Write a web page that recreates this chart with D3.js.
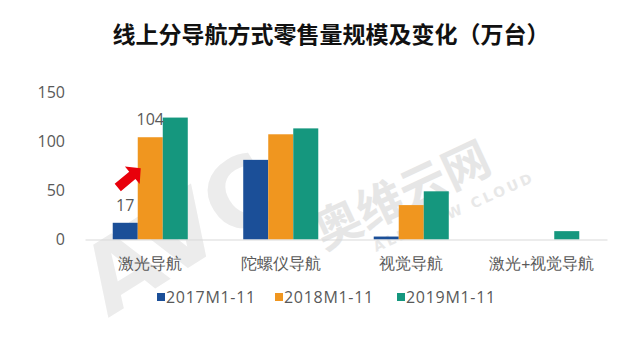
<!DOCTYPE html>
<html>
<head>
<meta charset="utf-8">
<script src="https://cdn.jsdelivr.net/npm/d3@7"></script>
<style>
  html, body { margin: 0; padding: 0; background: #fff; }
  svg { display: block; font-family: "Microsoft YaHei", "Noto Sans CJK SC", "Noto Sans", sans-serif; }
</style>
</head>
<body>
<svg id="chart" width="640" height="342"></svg>
<script>
// Navigation types (x categories)
const categories = ["激光导航", "陀螺仪导航", "视觉导航", "激光+视觉导航"];
// Series: online retail volume by period (10k units)
const seriesNames = ["2017M1-11", "2018M1-11", "2019M1-11"];
const values2017 = [17, 81, 3, 0];
const values2018 = [104, 107, 35, 0];
const values2019 = [124, 113, 49, 8.5];
const seriesColors = ["#1B4F98", "#F0961F", "#15977E"];
const yTicks = [0, 50, 100, 150];
// Values shown as labels on the chart: [series index, category index]
const labelled = [[0, 0], [1, 0]];

const seriesValues = [values2017, values2018, values2019];
const svg = d3.select("#chart");

const plot = { left: 85, right: 607, top: 92, bottom: 239.5 };

const x0 = d3.scaleBand()
  .domain(categories)
  .range([plot.left, plot.right])
  .paddingInner(0.425)
  .paddingOuter(0.2125);

const x1 = d3.scaleBand()
  .domain(d3.range(seriesNames.length))
  .range([0, x0.bandwidth()]);

const y = d3.scaleLinear()
  .domain([0, 150])
  .range([plot.bottom, plot.top]);

// Brand watermark behind the chart
const wm = svg.append("g");
wm.append("text")
  .attr("transform", "translate(108,318) rotate(-32)")
  .attr("font-size", 96).attr("font-weight", "bold")
  .attr("font-family", "DejaVu Sans, sans-serif")
  .attr("fill", "#ececec")
  .text("AVC");
wm.append("text")
  .attr("transform", "translate(324,250) rotate(-25)")
  .attr("font-size", 47).attr("font-weight", "bold")
  .attr("fill", "#e6e6e6")
  .text("奥维云网");
wm.append("text")
  .attr("transform", "translate(376,252) rotate(-24)")
  .attr("font-size", 14).attr("font-weight", "bold").attr("letter-spacing", 3)
  .attr("font-family", "DejaVu Sans, sans-serif")
  .attr("fill", "#e8e8e8")
  .text("ALL VIEW CLOUD");

// Title
svg.append("text")
  .attr("x", 331).attr("y", 43)
  .attr("text-anchor", "middle")
  .attr("font-size", 23).attr("font-weight", "bold")
  .attr("fill", "#111")
  .text("线上分导航方式零售量规模及变化（万台）");

// Y axis (labels only, no line)
const yAxis = d3.axisLeft(y).tickValues(yTicks).tickSize(0).tickPadding(20);
const yg = svg.append("g").attr("transform", `translate(${plot.left},0)`).call(yAxis);
yg.select(".domain").remove();
yg.selectAll("text")
  .attr("font-size", 16).attr("fill", "#595959")
  .attr("font-family", "Segoe UI, Open Sans, Noto Sans, sans-serif");

// Bars
const groups = svg.append("g").selectAll("g")
  .data(categories)
  .join("g")
  .attr("transform", d => `translate(${x0(d)},0)`);

groups.selectAll("rect")
  .data((d, i) => seriesValues.map((vals, s) => ({ s, v: vals[i] })))
  .join("rect")
  .attr("x", d => x1(d.s))
  .attr("width", x1.bandwidth())
  .attr("y", d => y(d.v))
  .attr("height", d => y(0) - y(d.v))
  .attr("fill", d => seriesColors[d.s]);

// X axis baseline and category labels
const xAxis = d3.axisBottom(x0).tickSize(0).tickPadding(18);
const xg = svg.append("g").attr("transform", `translate(0,${plot.bottom})`).call(xAxis);
xg.select(".domain").attr("stroke", "#d9d9d9").attr("stroke-width", 1);
xg.selectAll("text").attr("font-size", 15.5).attr("fill", "#595959");

// Value labels
svg.append("g").selectAll("text")
  .data(labelled)
  .join("text")
  .attr("x", ([s, c]) => x0(categories[c]) + x1(s) + x1.bandwidth() / 2)
  .attr("y", ([s, c]) => y(seriesValues[s][c]) - 12)
  .attr("text-anchor", "middle")
  .attr("font-size", 16).attr("fill", "#595959")
  .attr("font-family", "Segoe UI, Open Sans, Noto Sans, sans-serif")
  .text(([s, c]) => seriesValues[s][c]);

// Red arrow pointing at the 2018 laser-navigation bar
const tip = [x0(categories[0]) + x1(1) + 3, y(values2018[0]) + 31];
svg.append("path")
  .attr("transform", `translate(${tip[0]},${tip[1]}) rotate(-40)`)
  .attr("d", "M0,0 L-11,-11.5 L-11,-4.8 L-30,-4.8 L-30,4.8 L-11,4.8 L-11,11.5 Z")
  .attr("fill", "#e8000b");

// Legend
const legendX = [157, 275, 397];
const lg = svg.append("g").selectAll("g")
  .data(seriesNames)
  .join("g")
  .attr("transform", (d, i) => `translate(${legendX[i]},297)`);
lg.append("rect").attr("x", 0).attr("y", -4).attr("width", 8).attr("height", 8)
  .attr("fill", (d, i) => seriesColors[i]);
lg.append("text").attr("x", 9).attr("y", 6)
  .attr("font-size", 16).attr("letter-spacing", 0.7).attr("fill", "#595959")
  .attr("font-family", "Segoe UI, Open Sans, Noto Sans, sans-serif")
  .text(d => d);
</script>
</body>
</html>
